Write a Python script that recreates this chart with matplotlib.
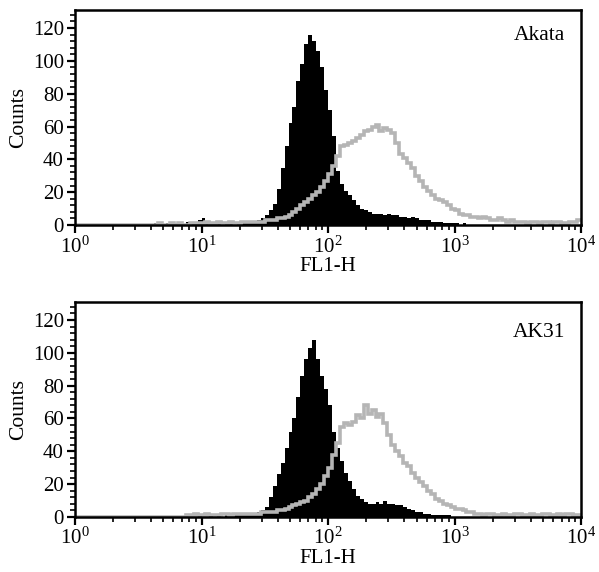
import matplotlib.pyplot as plt
import numpy as np
from matplotlib.ticker import AutoMinorLocator, LogLocator, NullFormatter

plt.rcParams['font.family'] = 'Liberation Serif'
plt.rcParams['mathtext.fontset'] = 'custom'
plt.rcParams['mathtext.rm'] = 'Liberation Serif'

# channel counts, 32 channels per decade, starting at 10^0
CH_PER_DECADE = 32

akata_control = [
    0, 0, 0, 0, 0, 0, 0, 0, 0, 0, 0, 0, 0, 0, 0, 0, 0, 0, 0, 0,
    1, 0, 0, 1, 0, 1, 1, 0, 2, 1, 2, 3, 4, 2, 1, 2, 1, 0, 1, 1,
    0, 1, 1, 1, 2, 2, 3, 4, 6, 9, 13, 22, 35, 48, 62, 72, 88, 98, 110, 116,
    112, 106, 96, 82, 70, 54, 33, 25, 21, 18, 15, 12, 10, 9, 8, 7, 7, 7, 6, 7,
    6, 6, 5, 5, 4, 5, 4, 3, 3, 3, 2, 2, 2, 1, 1, 1, 1, 0, 1, 0,
    0, 0, 0, 0, 0, 0, 0, 0, 0, 0, 0, 0, 0, 0, 0, 0, 0, 0, 0, 0,
    0, 0, 0, 0, 0, 0, 0, 0,
]
akata_test = [
    0, 0, 0, 0, 0, 0, 0, 0, 0, 0, 0, 0, 0, 0, 0, 0, 0, 0, 0, 0,
    0, 1, 0, 0, 1, 0, 1, 0, 0, 1, 1, 1, 1, 2, 1, 1, 2, 1, 1, 2,
    1, 1, 2, 2, 2, 2, 2, 2, 3, 3, 3, 4, 4, 5, 6, 8, 10, 12, 14, 16,
    18, 20, 23, 27, 31, 36, 42, 48, 49, 50, 51, 53, 55, 57, 58, 60, 61, 57, 59, 58,
    56, 50, 43, 41, 38, 35, 30, 27, 23, 21, 18, 16, 15, 14, 12, 10, 9, 7, 6, 6,
    5, 5, 4, 5, 4, 3, 3, 4, 3, 2, 3, 2, 2, 2, 1, 2, 2, 1, 2, 2,
    1, 2, 2, 1, 1, 2, 2, 3,
]
ak31_control = [
    0, 0, 0, 0, 0, 0, 0, 0, 0, 0, 0, 0, 0, 0, 0, 0, 0, 0, 0, 0,
    0, 0, 0, 0, 0, 0, 0, 0, 0, 0, 0, 1, 0, 0, 1, 0, 1, 0, 1, 1,
    1, 1, 2, 1, 2, 2, 3, 4, 6, 12, 19, 26, 33, 42, 52, 60, 73, 86, 96, 103,
    108, 96, 86, 78, 68, 52, 42, 34, 27, 22, 17, 13, 11, 9, 8, 8, 9, 8, 10, 8,
    8, 7, 7, 6, 5, 4, 3, 3, 2, 2, 1, 1, 1, 1, 1, 0, 0, 0, 0, 0,
    0, 0, 0, 0, 0, 0, 0, 0, 0, 0, 0, 0, 0, 0, 0, 0, 0, 0, 0, 0,
    0, 0, 0, 0, 0, 0, 0, 0,
]
ak31_test = [
    0, 0, 0, 0, 0, 0, 0, 0, 0, 0, 0, 0, 0, 0, 0, 0, 0, 0, 0, 0,
    0, 0, 0, 0, 0, 0, 0, 0, 1, 1, 2, 1, 1, 2, 1, 1, 1, 2, 2, 1,
    2, 2, 2, 2, 2, 2, 2, 3, 3, 3, 3, 4, 4, 5, 6, 7, 8, 9, 10, 12,
    14, 17, 20, 25, 30, 38, 45, 55, 57, 56, 58, 62, 60, 68, 63, 65, 61, 63, 57, 50,
    44, 40, 37, 33, 31, 27, 24, 21, 19, 16, 14, 11, 10, 8, 7, 6, 5, 5, 4, 3,
    3, 2, 2, 1, 2, 2, 1, 1, 2, 1, 1, 2, 2, 1, 1, 2, 1, 1, 2, 2,
    1, 1, 2, 1, 2, 2, 1, 1,
]

panels = [
    ("Akata", akata_control, akata_test),
    ("AK31", ak31_control, ak31_test),
]

edges = 10.0 ** (np.arange(len(akata_control) + 1) / CH_PER_DECADE)

fig = plt.figure(figsize=(5.99, 5.72), dpi=100)
positions = [[0.1252, 0.6066, 0.845, 0.376], [0.1252, 0.0962, 0.845, 0.376]]
label_y = [0.882, 0.858]

for (name, control, test), pos, ly in zip(panels, positions, label_y):
    ax = fig.add_axes(pos)
    ax.stairs(control, edges, fill=True, color='black', antialiased=False,
              linewidth=0)
    ax.stairs(test, edges, color='#b5b5b5', linewidth=2.6, baseline=None)
    ax.set_xscale('log')
    ax.set_xlim(1, 1e4)
    ax.set_ylim(0, 131)
    ax.set_yticks([0, 20, 40, 60, 80, 100, 120])
    ax.yaxis.set_minor_locator(AutoMinorLocator(5))
    ax.set_xticks([1, 10, 100, 1000, 10000])
    ax.set_xticklabels([r'$\mathregular{10^{%d}}$' % i for i in range(5)])
    ax.xaxis.set_minor_locator(LogLocator(base=10, subs=np.arange(2, 10)))
    ax.xaxis.set_minor_formatter(NullFormatter())
    ax.tick_params(axis='both', which='major', direction='out', length=6, width=1.6,
                   labelsize=15, pad=2)
    ax.tick_params(axis='both', which='minor', direction='out', length=3.5, width=1.2)
    for sp in ax.spines.values():
        sp.set_linewidth(1.8)
    ax.set_xlabel('FL1-H', fontsize=15, labelpad=0)
    ax.set_ylabel('Counts', fontsize=15.5, labelpad=3)
    ax.text(0.917, ly, name, transform=ax.transAxes, ha='center', va='center',
            fontsize=15.5)

fig.savefig('out.png', dpi=100)
